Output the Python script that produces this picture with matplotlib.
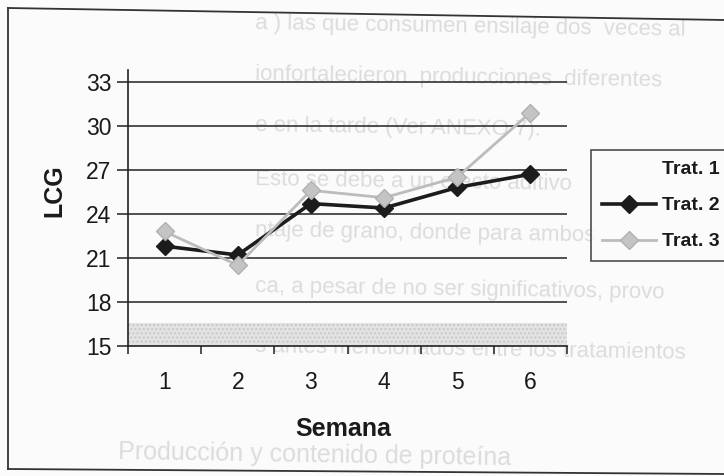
import matplotlib
matplotlib.use("Agg")
import matplotlib.pyplot as plt
from matplotlib.lines import Line2D

plt.rcParams['font.family'] = ['Liberation Sans', 'DejaVu Sans']

# Data
semanas = [1, 2, 3, 4, 5, 6]
series_names = ["Trat. 1", "Trat. 2", "Trat. 3"]
trat2 = [21.8, 21.2, 24.7, 24.4, 25.8, 26.7]
trat3 = [22.8, 20.5, 25.6, 25.1, 26.5, 30.9]
y_ticks = [15, 18, 21, 24, 27, 30, 33]

# Faint text from the page behind the chart
page_lines = [
    "a ) las que consumen ensilaje dos  veces al",
    "ionfortalecieron  producciones  diferentes",
    "e en la tarde (Ver ANEXO 7).",
    "Esto se debe a un efecto aditivo",
    "ntaje de grano, donde para ambos",
    "ca, a pesar de no ser significativos, provo",
    "s antes mencionados entre los tratamientos",
]
page_heading = "Producción y contenido de proteína"

W, H = 724, 476
fig = plt.figure(figsize=(W / 100, H / 100), dpi=100)
fig.patch.set_facecolor('#fbfbfb')

def fx(px):
    return px / W

def fy(py):
    return 1 - py / H

# page text behind the chart
rows_y = [27, 78, 128, 182, 233, 290, 350]
for txt, yy in zip(page_lines, rows_y):
    fig.text(fx(255), fy(yy), txt, fontsize=16, color='#dcdcdc',
             va='center', ha='left', rotation=-0.9, zorder=-5)
fig.text(fx(118), fy(455), page_heading, fontsize=18, color='#dcdcdc',
         va='center', ha='left', rotation=-0.9, zorder=-5)

# outer frame
frame_kw = dict(color='#333333', lw=1.3, transform=fig.transFigure, zorder=10)
fig.add_artist(Line2D([fx(8), fx(724)], [fy(8), fy(20)], **frame_kw))
fig.add_artist(Line2D([fx(8), fx(8)], [fy(8), fy(469)], **frame_kw))
fig.add_artist(Line2D([fx(8), fx(724)], [fy(469), fy(474)], **frame_kw))

# plot area
ax_left, ax_right, ax_top, ax_bottom = 128, 567, 70, 346
ax = fig.add_axes([fx(ax_left), fy(ax_bottom), fx(ax_right - ax_left),
                   (ax_bottom - ax_top) / H])
ax.set_facecolor('none')

ax.set_xlim(0.5, 6.5)
ax.set_ylim(15, 33.8)

# light floor band
ax.axhspan(15, 16.6, facecolor='#e3e3e3', edgecolor='#c8c8c8', hatch='....',
           linewidth=0, zorder=0)

# horizontal gridlines
for v in y_ticks[1:]:
    ax.axhline(v, color='#222222', lw=1.1, zorder=1)

l2, = ax.plot(semanas, trat2, color='#1c1c1c', lw=2.6, marker='D', ms=9,
              mfc='#1c1c1c', mec='#1c1c1c', zorder=3)
l3, = ax.plot(semanas, trat3, color='#bcbcbc', lw=2.0, marker='D', ms=9,
              mfc='#c4c4c4', mec='#b0b0b0', zorder=4)

for s in ['top', 'right']:
    ax.spines[s].set_visible(False)
for s in ['left', 'bottom']:
    ax.spines[s].set_color('#222222')
    ax.spines[s].set_linewidth(1.2)

ax.set_yticks(y_ticks)
ax.set_yticklabels([str(v) for v in y_ticks])
ax.tick_params(axis='y', direction='out', length=8, width=1.1, pad=4,
               labelsize=16.5, colors='#222222', labelcolor='#1a1a1a')

ax.set_xticks(semanas)
ax.set_xticklabels([str(s) for s in semanas])
ax.set_xticks([0.5 + i for i in range(7)], minor=True)
ax.tick_params(axis='x', which='major', length=0, pad=18, labelsize=16.5,
               labelcolor='#1a1a1a')
ax.tick_params(axis='x', which='minor', direction='out', length=6, width=1.1,
               colors='#222222')

fig.text(fx(54), fy(191), "LCG", rotation=90, fontsize=18, fontweight='bold',
         ha='center', va='center', color='#1a1a1a')
fig.text(fx(343), fy(429), "Semana", fontsize=18, fontweight='bold',
         ha='center', va='center', color='#1a1a1a')

# legend
h1 = Line2D([], [], color='none')
leg = fig.legend([h1, l2, l3], series_names, loc='upper left',
                 bbox_to_anchor=(fx(591), fy(150)), bbox_transform=fig.transFigure,
                 frameon=True, fancybox=False, edgecolor='#222222',
                 prop={'weight': 'bold', 'size': 14}, handlelength=2.8,
                 handletextpad=0.3, labelspacing=0.95, borderpad=0.55,
                 borderaxespad=0, markerscale=1.0)
leg.get_frame().set_linewidth(1.2)
leg.get_frame().set_facecolor('#fbfbfb')
for t in leg.get_texts():
    t.set_color('#1a1a1a')

fig.savefig("out.png", dpi=100, facecolor=fig.get_facecolor())
